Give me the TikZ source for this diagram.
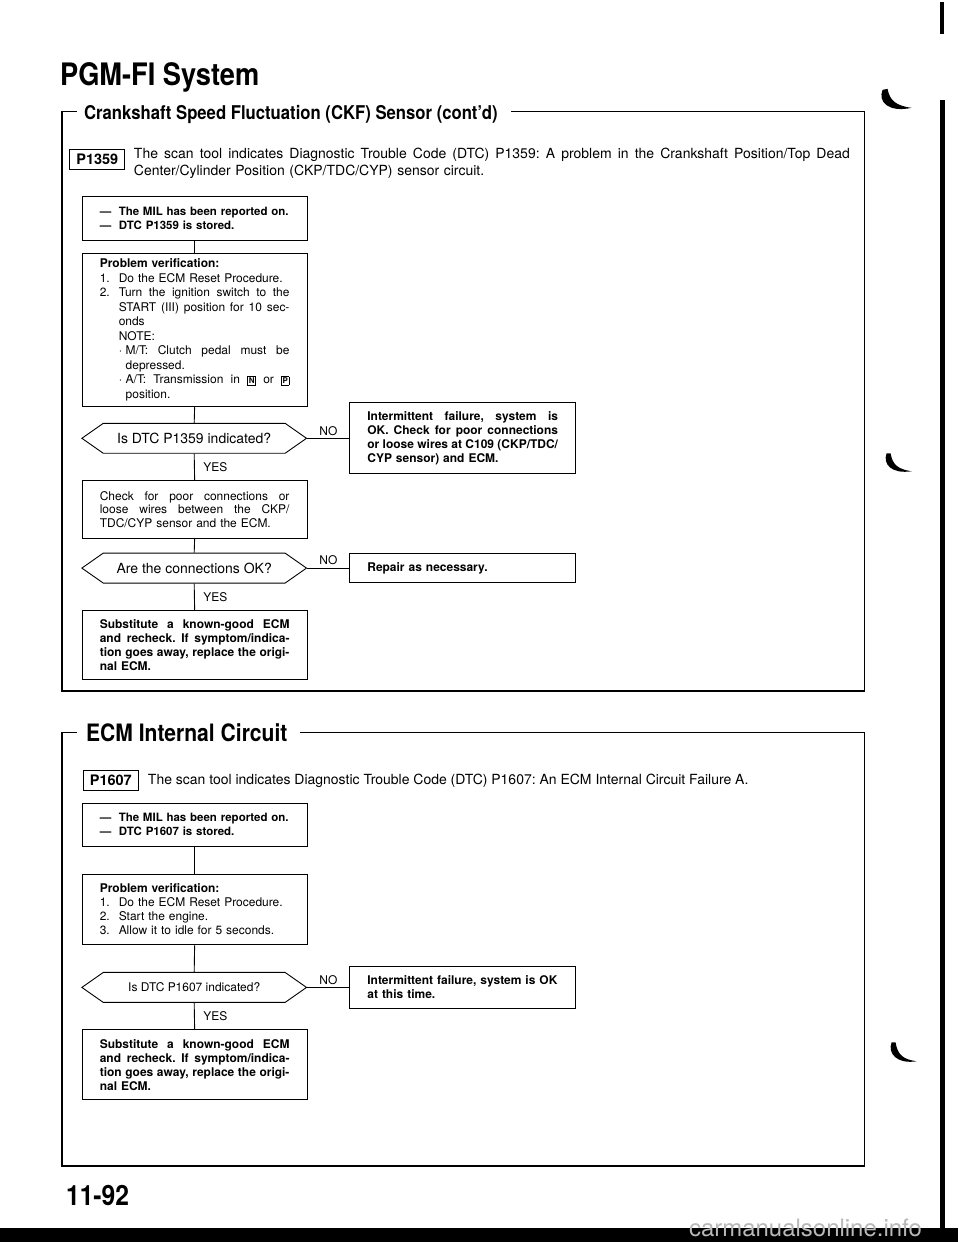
\documentclass[tikz,border=0pt]{standalone}
\usepackage{fontspec}
\setmainfont{TeX Gyre Heros}
\newfontfamily\headfont[FakeStretch=0.88]{TeX Gyre Heros}
\usetikzlibrary{shapes.symbols}
\newcommand\jl[1]{{\spaceskip=0pt\xspaceskip=0pt\makebox[\hsize][s]{#1}}}
\newcommand\ijl[3]{{\spaceskip=0pt\xspaceskip=0pt\makebox[#1][l]{#2}\makebox[\dimexpr\hsize-#1\relax][s]{#3}}}
\newcommand\keybox[1]{{\setlength\fboxsep{0.8pt}\setlength\fboxrule{0.7pt}\fbox{\fontsize{8}{8}\selectfont\bfseries #1}}}
\tikzset{
  sectframe/.style={line width=1.3pt},
  flowbox/.style={draw, line width=0.9pt, anchor=north west, text width=190pt, inner xsep=17.5pt, inner ysep=0pt, align=left, font=\fontsize{12}{14}\selectfont},
  sidebox/.style={flowbox, anchor=west, text width=191pt},
  boldtext/.style={font=\bfseries\fontsize{12}{14}\selectfont},
  miltext/.style={font=\bfseries\fontsize{11.5}{14}\selectfont},
  question/.style={draw, line width=0.9pt, signal, signal to=west and east, signal pointer angle=70, minimum width=225pt, minimum height=30pt, inner sep=0pt, font=\fontsize{12}{13.5}\selectfont},
  widequestion/.style={question, font=\fontsize{14}{14}\selectfont},
  answer/.style={inner sep=2.5pt, font=\fontsize{12}{12}\selectfont},
  codebox/.style={draw, line width=1pt, minimum width=55pt, minimum height=20pt, inner sep=0pt, font=\bfseries\fontsize{14.5}{14.5}\selectfont},
  desc/.style={anchor=north west, inner sep=0pt, align=left, font=\fontsize{14}{17.5}\selectfont},
  flow/.style={line width=0.9pt}
}

\begin{document}
\frenchspacing
\begin{tikzpicture}[x=1pt,y=-1pt]
	%%%%% START %%%%%
	\fill[white] (0,0) rectangle (960,1242);
	
	\node[anchor=base west, inner sep=0pt, font=\headfont\bfseries\fontsize{31}{31}\selectfont] (pgmtitle) at (60,84) {PGM-FI System};
	
	%%%%% CKF SENSOR %%%%%
	\node[anchor=base west, inner sep=0pt, font=\headfont\bfseries\fontsize{19}{19}\selectfont] (ckfhead) at (84,118) {Crankshaft Speed Fluctuation (CKF) Sensor (cont’d)};
	\draw[sectframe] (512,110) -- (866,110) -- (866,690) -- (62,690) -- (62,110) -- (77,110);
	
	\node[codebox] (p1359) at (97.5,158) {P1359};
	\node[desc, text width=717pt] (p1359txt) at (134,146) {\jl{The scan tool indicates Diagnostic Trouble Code (DTC) P1359: A problem in the Crankshaft Position/Top Dead}\\Center/Cylinder Position (CKP/TDC/CYP) sensor circuit.};
	
	\node[flowbox, miltext, minimum height=44pt] (mil1) at (82,194) {\makebox[19pt][l]{---}The MIL has been reported on.\\\makebox[19pt][l]{---}DTC P1359 is stored.};
	\node[flowbox, font=\fontsize{12}{14.5}\selectfont, minimum height=154pt] (verify1) at (82,251) {\textbf{Problem verification:}\\
		\makebox[19pt][l]{1.}Do the ECM Reset Procedure.\\
		\ijl{19pt}{2.}{Turn the ignition switch to the}\\
		\ijl{19pt}{}{START (III) position for 10 sec-}\\
		\hspace*{19pt}onds\\
		\hspace*{19pt}NOTE:\\
		\ijl{26pt}{\hspace*{19pt}·}{M/T: Clutch pedal must be}\\
		\hspace*{26pt}depressed.\\
		\ijl{26pt}{\hspace*{19pt}·}{A/T: Transmission in \keybox{N} or \keybox{P}}\\
		\hspace*{26pt}position.};
	\node[widequestion] (ask1) at (194.5,437) {Is DTC P1359 indicated?};
	\node[sidebox, boldtext, minimum height=71pt] (intermit1) at (350,437) {\jl{Intermittent failure, system is}\\\jl{OK. Check for poor connections}\\\jl{or loose wires at C109 (CKP/TDC/}\\CYP sensor) and ECM.};
	\node[flowbox, minimum height=58pt] (check1) at (82,479) {\jl{Check for poor connections or}\\\jl{loose wires between the CKP/}\\TDC/CYP sensor and the ECM.};
	\node[widequestion] (ask2) at (194.5,567) {Are the connections OK?};
	\node[sidebox, boldtext, minimum height=29pt] (repair1) at (350,567) {Repair as necessary.};
	\node[flowbox, boldtext, minimum height=69pt] (subst1) at (82,609) {\jl{Substitute a known-good ECM}\\\jl{and recheck. If symptom/indica-}\\\jl{tion goes away, replace the origi-}\\nal ECM.};
	
	\draw[flow] (mil1.south) -- (verify1.north);
	\draw[flow] (verify1.south) -- (ask1.north);
	\draw[flow] (ask1.east) -- node[answer, above] {NO} (intermit1.west);
	\draw[flow] (ask1.south) -- node[answer, right, xshift=6pt] {YES} (check1.north);
	\draw[flow] (check1.south) -- (ask2.north);
	\draw[flow] (ask2.east) -- node[answer, above] {NO} (repair1.west);
	\draw[flow] (ask2.south) -- node[answer, right, xshift=6pt] {YES} (subst1.north);
	
	%%%%% ECM INTERNAL CIRCUIT %%%%%
	\node[anchor=base west, inner sep=0pt, font=\headfont\bfseries\fontsize{24}{24}\selectfont] (ecmhead) at (86,741) {ECM Internal Circuit};
	\draw[sectframe] (300,732) -- (866,732) -- (866,1166) -- (62,1166) -- (62,732) -- (77,732);
	
	\node[codebox] (p1607) at (111,779.5) {P1607};
	\node[desc, anchor=base west] (p1607txt) at (148,784) {The scan tool indicates Diagnostic Trouble Code (DTC) P1607: An ECM Internal Circuit Failure A.};
	
	\node[flowbox, miltext, minimum height=43pt] (mil2) at (82,802) {\makebox[19pt][l]{---}The MIL has been reported on.\\\makebox[19pt][l]{---}DTC P1607 is stored.};
	\node[flowbox, minimum height=71pt] (verify2) at (82,873) {\textbf{Problem verification:}\\
		\makebox[19pt][l]{1.}Do the ECM Reset Procedure.\\
		\makebox[19pt][l]{2.}Start the engine.\\
		\makebox[19pt][l]{3.}Allow it to idle for 5 seconds.};
	\node[question] (ask3) at (194.5,987) {Is DTC P1607 indicated?};
	\node[sidebox, boldtext, minimum height=43pt] (intermit2) at (350,987) {Intermittent failure, system is OK\\at this time.};
	\node[flowbox, boldtext, minimum height=70pt] (subst2) at (82,1029) {\jl{Substitute a known-good ECM}\\\jl{and recheck. If symptom/indica-}\\\jl{tion goes away, replace the origi-}\\nal ECM.};
	
	\draw[flow] (mil2.south) -- (verify2.north);
	\draw[flow] (verify2.south) -- (ask3.north);
	\draw[flow] (ask3.east) -- node[answer, above] {NO} (intermit2.west);
	\draw[flow] (ask3.south) -- node[answer, right, xshift=6pt] {YES} (subst2.north);
	
	\node[anchor=base west, inner sep=0pt, font=\headfont\bfseries\fontsize{28}{28}\selectfont] (pagenum) at (66,1205) {11-92};
	
	%%%%% SCAN MARKS %%%%%
	\fill (0,1228) rectangle (960,1242);
	\draw[line width=4pt] (944,0) -- (944,32);
	\draw[line width=5pt] (944,98) -- (944,1228);
	\fill (884,88) .. controls (879,100) and (890,111) .. (913,106) .. controls (898,104) and (891,99) .. (889,87) -- cycle;
	\fill (888,452) .. controls (884,463) and (893,473) .. (913,470) .. controls (900,468) and (894,464) .. (892,452) -- cycle;
	\fill (893,1042) .. controls (889,1053) and (898,1064) .. (918,1061) .. controls (905,1059) and (899,1055) .. (897,1042) -- cycle;
	\node[anchor=base west, inner sep=0pt, text=gray!55, font=\fontsize{24}{24}\selectfont] (watermark) at (690,1236) {carmanualsonline.info};
	%%%%% END %%%%%
\end{tikzpicture}
\end{document}
